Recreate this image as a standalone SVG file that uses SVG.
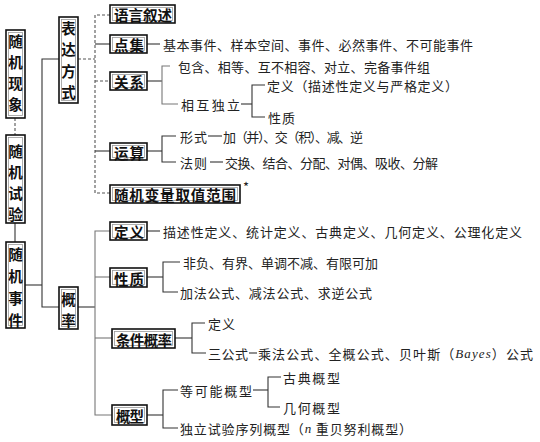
<svg xmlns="http://www.w3.org/2000/svg" width="540" height="442" viewBox="0 0 540 442">
<style>
.bo{fill:#fff;stroke:#111;stroke-width:1.6}
.bi{fill:none;stroke:#999;stroke-width:0.8}
.bl{font-family:"Noto Sans CJK SC","Noto Sans",sans-serif;font-size:14.5px;font-weight:bold;fill:#111}
.t{font-family:"Noto Sans CJK SC","Noto Sans",sans-serif;font-size:13px;fill:#222}
.c path{fill:none;stroke:#333;stroke-width:1.1}
.c .d{stroke-dasharray:3 2;stroke:#555}
.c .g{stroke:#777}
</style>
<rect width="540" height="442" fill="#fff"/>
<g class="c" id="connectors">
<path class="d" d="M15,118V135"/>
<path d="M15,223V242"/>
<path d="M25,285H42"/>
<path d="M59,59H42V307H59"/>
<path class="d" d="M78,59H95"/>
<path class="d" d="M110,15H95V193H110"/>
<path d="M95,44H110"/>
<path class="d" d="M95,81H110"/>
<path d="M95,151H110"/>
<path d="M78,307H95"/>
<path class="g" d="M110,231H95V415H112"/>
<path class="g" d="M95,277H110"/>
<path class="g" d="M95,338H112"/>
<path d="M147,44H160"/>
<path d="M147,81H162"/>
<path class="g" d="M170,66H162V104H178"/>
<path d="M241,104H252"/>
<path d="M265,85H252V117H265"/>
<path d="M147,151H162"/>
<path d="M176,136H162V162H176"/>
<path d="M208,136H222"/>
<path d="M210,162H223"/>
<path d="M147,231H160"/>
<path d="M147,277H163"/>
<path d="M180,262H163V292H178"/>
<path d="M175,338H192"/>
<path d="M205,323H192V353H206"/>
<path d="M249,353H257"/>
<path d="M147,415H163"/>
<path d="M178,390H163V428H178"/>
<path d="M253,390H268"/>
<path d="M281,377H268V407H280"/>
</g>
<g id="n-xianxiang"><rect class="bo" x="6" y="30" width="19" height="88"/><rect class="bi" x="8.5" y="32.5" width="14" height="83"/>
<text class="bl" text-anchor="middle" dominant-baseline="central"><tspan x="15.5" y="40">随</tspan><tspan x="15.5" y="61">机</tspan><tspan x="15.5" y="82">现</tspan><tspan x="15.5" y="103">象</tspan></text></g>
<g id="n-shiyan"><rect class="bo" x="6" y="135" width="19" height="88"/><rect class="bi" x="8.5" y="137.5" width="14" height="83"/>
<text class="bl" text-anchor="middle" dominant-baseline="central"><tspan x="15.5" y="150">随</tspan><tspan x="15.5" y="171">机</tspan><tspan x="15.5" y="192">试</tspan><tspan x="15.5" y="213">验</tspan></text></g>
<g id="n-shijian"><rect class="bo" x="6" y="242" width="19" height="86"/><rect class="bi" x="8.5" y="244.5" width="14" height="81"/>
<text class="bl" text-anchor="middle" dominant-baseline="central"><tspan x="15.5" y="253">随</tspan><tspan x="15.5" y="275">机</tspan><tspan x="15.5" y="297">事</tspan><tspan x="15.5" y="319">件</tspan></text></g>
<g id="n-biaoda"><rect class="bo" x="59" y="17" width="19" height="86"/><rect class="bi" x="61.5" y="19.5" width="14" height="81"/>
<text class="bl" text-anchor="middle" dominant-baseline="central"><tspan x="68.5" y="27">表</tspan><tspan x="68.5" y="48">达</tspan><tspan x="68.5" y="70">方</tspan><tspan x="68.5" y="91">式</tspan></text></g>
<g id="n-gailv"><rect class="bo" x="59" y="287" width="19" height="42"/><rect class="bi" x="61.5" y="289.5" width="14" height="37"/>
<text class="bl" text-anchor="middle" dominant-baseline="central"><tspan x="68.5" y="298">概</tspan><tspan x="68.5" y="319">率</tspan></text></g>
<g id="n-yuyan"><rect class="bo" x="110" y="5" width="65" height="18"/><rect class="bi" x="112.5" y="7.5" width="60" height="13"/>
<text class="bl" x="114" y="14.5" dominant-baseline="central" textLength="58">语言叙述</text></g>
<g id="n-dianji"><rect class="bo" x="110" y="35" width="37" height="18"/><rect class="bi" x="112.5" y="37.5" width="32" height="13"/>
<text class="bl" x="114" y="44.5" dominant-baseline="central" textLength="30">点集</text></g>
<g id="n-guanxi"><rect class="bo" x="110" y="72" width="37" height="18"/><rect class="bi" x="112.5" y="74.5" width="32" height="13"/>
<text class="bl" x="114" y="81.5" dominant-baseline="central" textLength="30">关系</text></g>
<g id="n-yunsuan"><rect class="bo" x="110" y="143" width="37" height="17"/><rect class="bi" x="112.5" y="145.5" width="32" height="12"/>
<text class="bl" x="114" y="152" dominant-baseline="central" textLength="30">运算</text></g>
<g id="n-suiji"><rect class="bo" x="110" y="185" width="130" height="18"/><rect class="bi" x="112.5" y="187.5" width="125" height="13"/>
<text class="bl" x="114" y="194.5" dominant-baseline="central" textLength="122">随机变量取值范围</text>
<text class="t" x="243" y="186" font-size="9" dominant-baseline="central">*</text></g>
<g id="n-dingyi"><rect class="bo" x="110" y="222" width="37" height="18"/><rect class="bi" x="112.5" y="224.5" width="32" height="13"/>
<text class="bl" x="114" y="231.5" dominant-baseline="central" textLength="30">定义</text></g>
<g id="n-xingzhi"><rect class="bo" x="110" y="268" width="37" height="19"/><rect class="bi" x="112.5" y="270.5" width="32" height="14"/>
<text class="bl" x="114" y="278" dominant-baseline="central" textLength="30">性质</text></g>
<g id="n-tiaojian"><rect class="bo" x="112" y="329" width="63" height="19"/><rect class="bi" x="114.5" y="331.5" width="58" height="14"/>
<text class="bl" x="116" y="339" dominant-baseline="central" textLength="56">条件概率</text></g>
<g id="n-gaixing"><rect class="bo" x="112" y="405" width="35" height="20"/><rect class="bi" x="114.5" y="407.5" width="30" height="15"/>
<text class="bl" x="116" y="415.5" dominant-baseline="central" textLength="28">概型</text></g>
<g id="texts" class="t" dominant-baseline="central">
<text class="t" x="163" y="44" dominant-baseline="central" textLength="310">基本事件、样本空间、事件、必然事件、不可能事件</text>
<text class="t" x="178" y="66" dominant-baseline="central" textLength="252">包含、相等、互不相容、对立、完备事件组</text>
<text class="t" x="181" y="104" dominant-baseline="central" textLength="59">相互独立</text>
<text class="t" x="267" y="85" dominant-baseline="central" textLength="191">定义（描述性定义与严格定义）</text>
<text class="t" x="268" y="117" font-size="12.5" dominant-baseline="central" textLength="27">性质</text>
<text class="t" x="180" y="136" font-size="12.5" dominant-baseline="central" textLength="27">形式</text>
<text class="t" x="223" y="136" font-size="12.5" dominant-baseline="central" textLength="140">加（并）、交（积）、减、逆</text>
<text class="t" x="180" y="162" font-size="12.5" dominant-baseline="central" textLength="27">法则</text>
<text class="t" x="225" y="162" font-size="12.5" dominant-baseline="central" textLength="213">交换、结合、分配、对偶、吸收、分解</text>
<text class="t" x="163" y="231" dominant-baseline="central" textLength="359">描述性定义、统计定义、古典定义、几何定义、公理化定义</text>
<text class="t" x="183" y="262" dominant-baseline="central" textLength="195">非负、有界、单调不减、有限可加</text>
<text class="t" x="180" y="292" dominant-baseline="central" textLength="192">加法公式、减法公式、求逆公式</text>
<text class="t" x="208" y="323" dominant-baseline="central" textLength="27">定义</text>
<text class="t" x="208" y="353" dominant-baseline="central" textLength="40">三公式</text>
<text class="t" x="258" y="353" dominant-baseline="central" textLength="275">乘法公式、全概公式、贝叶斯（<tspan font-family="Liberation Serif,serif" font-style="italic">Bayes</tspan>）公式</text>
<text class="t" x="180" y="390" dominant-baseline="central" textLength="72">等可能概型</text>
<text class="t" x="283" y="377" dominant-baseline="central" textLength="57">古典概型</text>
<text class="t" x="283" y="407" dominant-baseline="central" textLength="57">几何概型</text>
<text class="t" x="180" y="428" dominant-baseline="central" textLength="232">独立试验序列概型（<tspan font-family="Liberation Serif,serif" font-style="italic">n</tspan> 重贝努利概型）</text>
</g>
</svg>
